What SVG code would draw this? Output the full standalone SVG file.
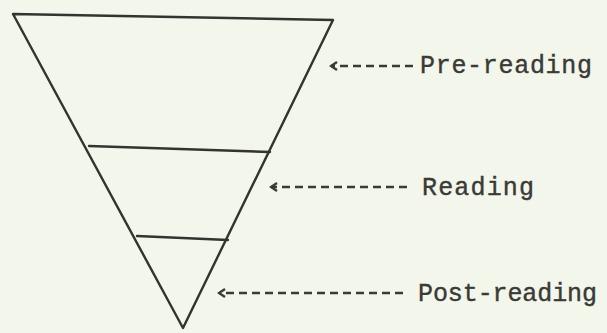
<svg xmlns="http://www.w3.org/2000/svg" width="607" height="333" viewBox="0 0 607 333">
<style>
.ln{stroke:#333330;stroke-width:2.4;fill:none;stroke-linecap:round;stroke-linejoin:round}
.ar{stroke:#3a3a36;stroke-width:2.4;fill:none;stroke-dasharray:8,5}
.tx{font-family:"Liberation Mono","DejaVu Sans Mono",monospace;font-size:25px;fill:#3a3a36;stroke:#3a3a36;stroke-width:0.4}
</style>
<defs>
<marker id="ah" markerWidth="10" markerHeight="10" refX="8" refY="5" orient="auto" markerUnits="userSpaceOnUse">
<path d="M2,1 L8,5 L2,9" fill="none" stroke="#3a3a36" stroke-width="2.4"/>
</marker>
</defs>
<rect width="607" height="333" fill="#f3f6eb"/>
<g id="funnel">
<path class="ln" d="M13,14 L333,20 L183,328 Z"/>
<line class="ln" x1="89" y1="146" x2="270" y2="152"/>
<line class="ln" x1="137" y1="236" x2="228" y2="240"/>
</g>
<g id="connectors">
<line class="ar" x1="413" y1="66" x2="331" y2="66" marker-end="url(#ah)"/>
<line class="ar" x1="407" y1="187" x2="271" y2="187" marker-end="url(#ah)"/>
<line class="ar" x1="403" y1="293" x2="219" y2="293" marker-end="url(#ah)"/>
</g>
<g id="pre-reading">
<text class="tx" x="420" y="73" textLength="172" lengthAdjust="spacing">Pre-reading</text>
</g>
<g id="reading">
<text class="tx" x="422" y="195" textLength="112" lengthAdjust="spacing">Reading</text>
</g>
<g id="post-reading">
<text class="tx" x="418" y="301" textLength="179" lengthAdjust="spacing">Post-reading</text>
</g>
</svg>
